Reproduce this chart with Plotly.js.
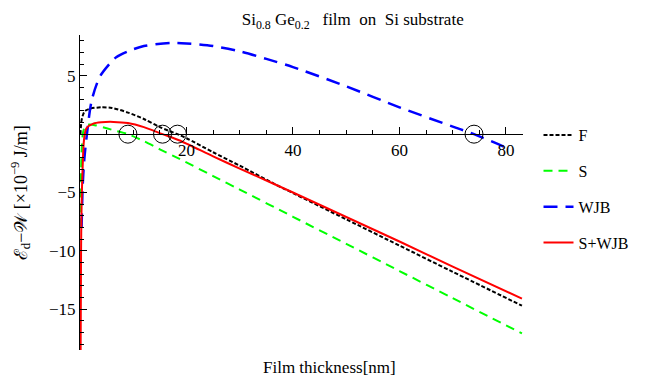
<!DOCTYPE html>
<html>
<head>
<meta charset="utf-8">
<script src="https://cdn.plot.ly/plotly-3.0.1.min.js"></script>
<style>html,body{margin:0;padding:0;background:#fff;}#chart{width:646px;height:382px;}</style>
</head>
<body>
<div id="chart"></div>
<script>
// ---- data ----
const seriesNames = ["F", "S", "WJB", "S+WJB"];

const fX = [0.08, 0.3, 0.6, 1, 2, 4, 6, 9, 12, 15, 18.3, 20, 25, 30, 37.4, 40, 50, 60, 70, 83];
const fY = [0, 1.2, 1.7, 2.0, 2.2, 2.3, 2.25, 1.85, 1.3, 0.6, 0, -0.35, -1.55, -2.7, -4.47, -5.05, -7.3, -9.55, -11.8, -14.7];

const sX = [0.08, 0.3, 0.6, 1, 1.7, 3, 5, 7, 9, 12, 15, 18.6, 25, 30, 40, 50, 60, 70, 83];
const sY = [-8, -1.5, 0.2, 0.7, 0.82, 0.75, 0.5, 0.25, 0, -0.6, -1.3, -2.1, -3.59, -4.75, -7.08, -9.4, -11.73, -14.06, -17.08];

const wX = [0.3, 0.5, 0.8, 1.3, 2.2, 3.7, 5.6, 6.8, 9, 12, 17, 20, 25, 30, 35, 40, 50, 60, 70, 74, 78, 81];
const wY = [-8, -4.5, -2.2, 0, 2.9, 4.9, 6.05, 6.6, 7.1, 7.55, 7.82, 7.78, 7.55, 7.1, 6.45, 5.75, 4.1, 2.3, 0.65, 0, -0.75, -1.35];

const swX = [0.12, 0.2, 0.3, 0.5, 0.75, 1.2, 2.5, 4, 6.3, 9, 12, 15.5, 18.6, 25, 30, 40, 50, 60, 70, 83];
const swY = [-18.6, -10, -6, -2.8, -0.5, 0.5, 0.9, 1.02, 1.05, 0.95, 0.6, 0, -0.52, -1.9, -2.95, -5.0, -7.1, -9.2, -11.35, -14.1];

// zero crossings marked with circles
const zeroX = [9, 15.5, 18.3, 74];
const zeroY = [0, 0, 0, 0];

const xTicks = [20, 40, 60, 80];
const yTicks = [-15, -10, -5, 5];
const xRange = [0, 83.2];
const yRange = [-18.5, 8.5];

// ---- chart ----
const serif = "Liberation Serif, Times New Roman, serif";
function line(name, x, y, color, dash, width) {
  return {
    type: "scatter", mode: "lines", name: name, x: x, y: y,
    legendgroup: name,
    line: {color: color, width: width, dash: dash, shape: "spline", smoothing: 0.8}
  };
}
const traces = [
  line(seriesNames[0], fX, fY, "#000000", "4px,2px", 2),
  line(seriesNames[1], sX, sY, "#00ff00", "9px,6px", 2),
  line(seriesNames[2], wX, wY, "#0000ff", "14px,8px", 2.5),
  line(seriesNames[3], swX, swY, "#ff0000", "solid", 2),
  {type: "scatter", mode: "markers", x: zeroX, y: zeroY, showlegend: false,
   marker: {symbol: "circle-open", size: 18, color: "#000", line: {width: 1, color: "#000"}}}
];

const zeroPos = (0 - yRange[0]) / (yRange[1] - yRange[0]);

const layout = {
  width: 646, height: 382,
  margin: {l: 80, r: 119, t: 35, b: 32},
  paper_bgcolor: "#fff", plot_bgcolor: "#fff",
  font: {family: serif, size: 16, color: "#000"},
  title: {text: "Si<sub>0.8</sub>\u00a0Ge<sub>0.2</sub>\u00a0\u00a0 film\u00a0 on\u00a0 Si substrate",
          font: {family: serif, size: 17, color: "#000"},
          x: 0.546, xanchor: "center", y: 0.95, yanchor: "middle", xref: "container", yref: "container"},
  showlegend: true,
  legend: {x: 1.035, y: 0.736, xanchor: "left", yanchor: "top", bgcolor: "rgba(0,0,0,0)",
           font: {family: serif, size: 16, color: "#000"}, itemwidth: 30, tracegroupgap: 12},
  xaxis: {range: xRange, anchor: "free", position: zeroPos, showgrid: false, zeroline: false,
          showline: true, linecolor: "#000", linewidth: 1,
          tickvals: xTicks, ticks: "inside", ticklen: 7, tickcolor: "#000", tickwidth: 1,
          minor: {dtick: 5, ticks: "inside", ticklen: 4, tickcolor: "#000", tickwidth: 1, showgrid: false},
          tickfont: {family: serif, size: 17, color: "#000"}},
  yaxis: {range: yRange, domain: [0, 1], showgrid: false, zeroline: false,
          showline: true, linecolor: "#000", linewidth: 1,
          tickvals: yTicks, ticks: "inside", ticklen: 7, tickcolor: "#000", tickwidth: 1,
          minor: {dtick: 1, ticks: "inside", ticklen: 4, tickcolor: "#000", tickwidth: 1, showgrid: false},
          tickfont: {family: serif, size: 17, color: "#000"}},
  annotations: [
    {text: "Film thickness[nm]", xref: "paper", yref: "paper", x: 0.564, y: -0.054,
     xanchor: "center", yanchor: "middle", showarrow: false, font: {family: serif, size: 17, color: "#000"}},
    {text: "\u2130<sub>d</sub>\u2212\uD835\uDCB2 [\u00d710<sup>\u22129</sup> J/m]", xref: "paper", yref: "paper",
     x: -0.134, y: 0.50, xanchor: "center", yanchor: "middle", textangle: -90, showarrow: false,
     font: {family: serif, size: 18, color: "#000"}}
  ]
};

Plotly.newPlot("chart", traces, layout, {displayModeBar: false, staticPlot: true});
</script>
</body>
</html>
